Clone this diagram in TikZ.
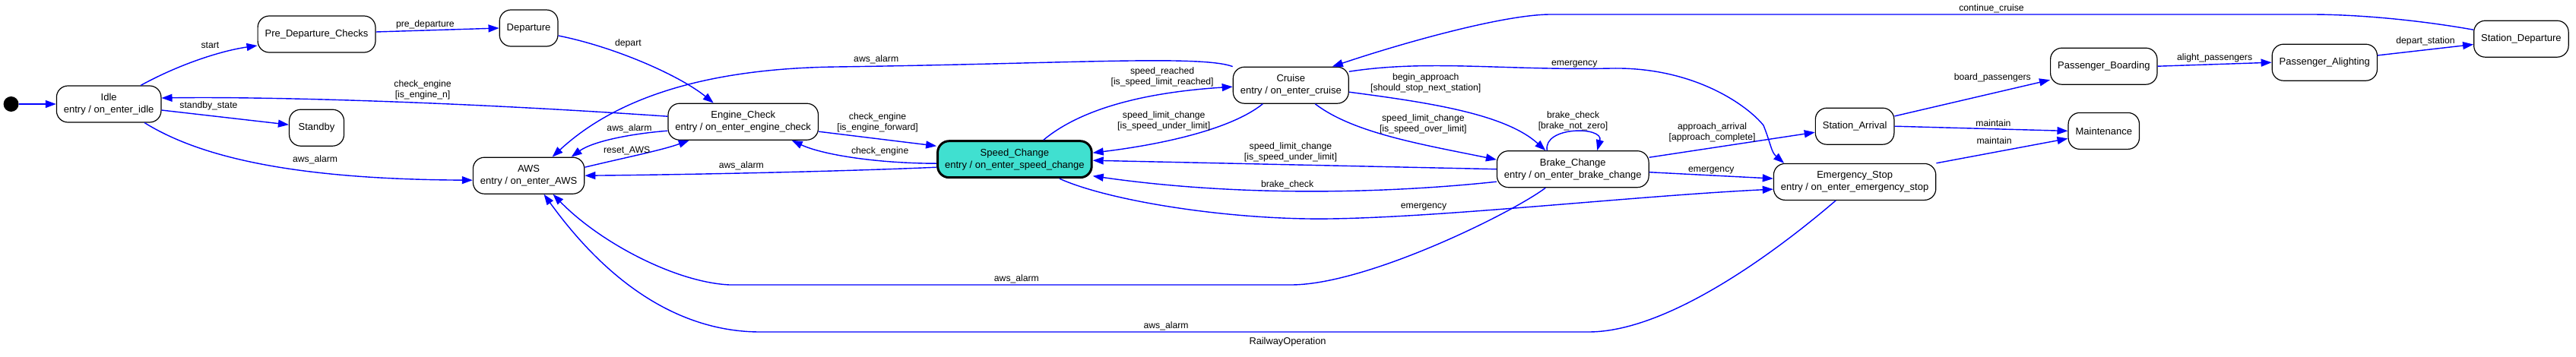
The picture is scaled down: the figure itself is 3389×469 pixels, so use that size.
\documentclass[tikz,border=0pt]{standalone}
\usepackage{fontspec}
\setmainfont{Liberation Sans}
\usetikzlibrary{positioning,arrows.meta}
\definecolor{turq}{HTML}{40E0D0}

\begin{document}
\begin{tikzpicture}[
  x=1pt, y=-1pt,
  stbox/.style={draw, line width=1.2pt, rounded corners=15pt, align=center,
                minimum width=72pt, minimum height=48pt, inner xsep=9.5pt,
                font=\fontsize{13}{16}\selectfont, fill=white},
  hilite/.style={fill=turq, line width=3pt},
  initdot/.style={circle, fill=black, minimum size=20pt, inner sep=0pt},
  trans/.style={draw=blue, line width=1.4pt, -{Triangle[length=14pt, width=10pt]}},
  lab/.style={font=\fontsize{12.2}{14}\selectfont, align=center, inner sep=1pt}
]
\useasboundingbox (0,0) rectangle (3389,469);
% States, left to right
\node[initdot] (init) at (14.6,137) {};
\node[stbox, right=49pt of init] (idle) {Idle\\ entry / on\_enter\_idle};
\node[stbox, right=126pt of idle, yshift=92pt] (pdc) {Pre\_Departure\_Checks};
\node[stbox, below=74pt of pdc] (standby) {Standby};
\node[stbox, right=162pt of pdc, yshift=8pt] (departure) {Departure};
\node[stbox, below=145pt of departure] (aws) {AWS\\ entry / on\_enter\_AWS};
\node[stbox, right=109pt of aws, yshift=71pt] (engine) {Engine\_Check\\ entry / on\_enter\_engine\_check};
\node[stbox, hilite, right=155pt of engine, yshift=-49.5pt] (speed) {Speed\_Change\\ entry / on\_enter\_speed\_change};
\node[stbox, right=184pt of speed, yshift=97.5pt] (cruise) {Cruise\\ entry / on\_enter\_cruise};
\node[stbox, right=194pt of cruise, yshift=-110.5pt] (brake) {Brake\_Change\\ entry / on\_enter\_brake\_change};
\node[stbox, right=218pt of brake, yshift=56.5pt] (arrival) {Station\_Arrival};
\node[stbox, below=24pt of arrival] (estop) {Emergency\_Stop\\ entry / on\_enter\_emergency\_stop};
\node[stbox, right=204.5pt of arrival, yshift=79pt] (boarding) {Passenger\_Boarding};
\node[stbox, below=36pt of boarding] (maint) {Maintenance};
\node[stbox, right=150pt of boarding, yshift=5pt] (alight) {Passenger\_Alighting};
\node[stbox, right=126pt of alight, yshift=31pt] (sdepart) {Station\_Departure};
\node[font=\fontsize{12.8}{15}\selectfont] (title) at (1694,450) {RailwayOperation};

% Start-up side
\draw[trans] (init) -- (idle);
\draw[trans] ([xshift=42pt]idle.north) .. controls (235,85) and (290,67) .. ([yshift=-15pt]pdc.west)
  node[lab, pos=0.59, above=9pt] {start};
\draw[trans] ([yshift=-8pt]idle.east) -- ([yshift=4pt]standby.west)
  node[lab, pos=0.37, above=5pt] {standby\_state};
\draw[trans] ([xshift=47pt]idle.south) .. controls (260,205) and (380,236) .. ([yshift=-6pt]aws.west)
  node[lab, pos=0.66, above=9pt] {aws\_alarm};
\draw[trans] ([yshift=3pt]pdc.east) -- (departure.west)
  node[lab, pos=0.4, above=0pt] {pre\_departure};
\draw[trans] ([yshift=-10pt]departure.east) .. controls (810,62) and (895,100) .. ([xshift=-39pt]engine.north)
  node[lab, pos=0.4, above=10pt] {depart};

% Engine check and AWS
\draw[trans] ([yshift=7pt]engine.west) .. controls (600,134) and (350,127) .. ([yshift=8pt]idle.east)
  node[lab, pos=0.41, above=3pt] {check\_engine\\ {[}is\_engine\_n{]}};
\draw[trans] ([yshift=-12pt]engine.west) .. controls (830,176) and (780,186) .. ([xshift=56pt]aws.north)
  node[lab, pos=0.35, above=2pt] {aws\_alarm};
\draw[trans] ([yshift=11pt]aws.east) .. controls (820,208) and (870,198) .. ([xshift=-71pt]engine.south)
  node[lab, pos=0.37, above=2pt] {reset\_AWS};
\draw[trans] ([yshift=-13pt]engine.east) -- ([yshift=17.5pt]speed.west)
  node[lab, pos=0.5, above=7pt] {check\_engine\\ {[}is\_engine\_forward{]}};
\draw[trans] ([yshift=-5.5pt]speed.west) .. controls (1150,215) and (1080,203) .. ([xshift=64pt]engine.south)
  node[lab, pos=0.32, above=5pt] {check\_engine};
\draw[trans] ([yshift=-10.5pt]speed.west) .. controls (1100,226) and (900,230) .. (aws.east)
  node[lab, pos=0.55, above=2pt] {aws\_alarm};
\draw[trans] (cruise.north west) .. controls (1580,72) and (1400,84) .. (1100,88)
  node[lab, pos=0.94, above=2pt] {aws\_alarm}
  .. controls (950,90) and (820,120) .. ([xshift=31pt]aws.north);

% Speed change and cruise
\draw[trans] ([xshift=38pt]speed.north) .. controls (1420,145) and (1500,122) .. ([yshift=-2pt]cruise.west)
  node[lab, pos=0.72, above=9pt] {speed\_reached\\ {[}is\_speed\_limit\_reached{]}};
\draw[trans] ([xshift=-37pt]cruise.south) .. controls (1620,170) and (1530,190) .. ([yshift=8.5pt]speed.east)
  node[lab, pos=0.25, left=28pt] {speed\_limit\_change\\ {[}is\_speed\_under\_limit{]}};
\draw[trans] ([yshift=-9pt]cruise.east) .. controls (1880,135) and (1980,150) .. ([xshift=-36pt]brake.north)
  node[lab, pos=0.33, above=13pt] {begin\_approach\\ {[}should\_stop\_next\_station{]}};
\draw[trans] ([xshift=32pt]cruise.south) .. controls (1780,175) and (1870,190) .. ([yshift=12.5pt]brake.west)
  node[lab, pos=0.66, above=13pt] {speed\_limit\_change\\ {[}is\_speed\_over\_limit{]}};
\draw[trans] (brake.west) -- ([yshift=-1.5pt]speed.east)
  node[lab, pos=0.51, above=2pt] {speed\_limit\_change\\ {[}is\_speed\_under\_limit{]}};
\draw[trans] ([yshift=-16.5pt]brake.west) .. controls (1850,252) and (1650,262) .. ([yshift=-22pt]speed.east)
  node[lab, pos=0.58, above=1pt] {brake\_check};
\draw[trans] ([xshift=59pt]speed.south) .. controls (1460,265) and (1620,290) .. (1750,288)
  .. controls (1900,286) and (2150,258) .. ([yshift=-9.7pt]estop.west)
  node[lab, pos=0.24, above=4pt] {emergency};

% Braking
\draw[trans] ([xshift=-34pt]brake.north) .. controls (2030,166) and (2110,166) .. ([xshift=32pt]brake.north)
  node[lab, pos=0.5, above=0pt] {brake\_check\\ {[}brake\_not\_zero{]}};
\draw[trans] ([yshift=15.5pt]brake.east) -- ([yshift=-8pt]arrival.west)
  node[lab, pos=0.38, above=6pt] {approach\_arrival\\ {[}approach\_complete{]}};
\draw[trans] ([yshift=-4pt]brake.east) -- ([yshift=4.3pt]estop.west)
  node[lab, pos=0.5, above=0pt] {emergency};
\draw[trans] ([yshift=18pt]cruise.east) .. controls (1880,78) and (1980,93) .. (2120,90)
  node[lab, pos=0.88, above=0pt] {emergency}
  .. controls (2230,88) and (2300,140) .. (2320,165)
  .. controls (2330,190) and (2330,200) .. ([xshift=-93pt]estop.north);

% Alarm returns along the bottom
\draw[trans] ([xshift=-36pt]brake.south) .. controls (1990,280) and (1800,374) .. (1700,375)
  -- (960,375) node[lab, pos=0.49, above=0pt] {aws\_alarm}
  .. controls (890,372) and (790,320) .. ([xshift=32pt]aws.south);
\draw[trans] ([xshift=-25pt]estop.south) .. controls (2350,320) and (2200,437) .. (2090,437)
  -- (1000,437) node[lab, pos=0.51, above=0pt] {aws\_alarm}
  .. controls (920,437) and (820,400) .. ([xshift=20pt]aws.south);

% Station side
\draw[trans] ([yshift=13.3pt]arrival.east) -- ([yshift=-18pt]boarding.west)
  node[lab, pos=0.63, above=13pt] {board\_passengers};
\draw[trans] (arrival.east) -- (maint.west)
  node[lab, pos=0.57, above=1pt] {maintain};
\draw[trans] (estop.north east) -- ([yshift=-10pt]maint.west)
  node[lab, pos=0.44, above=9pt] {maintain};
\draw[trans] (boarding.east) -- (alight.west)
  node[lab, pos=0.5, above=1pt] {alight\_passengers};
\draw[trans] ([yshift=9.3pt]alight.east) -- ([yshift=-7.3pt]sdepart.west)
  node[lab, pos=0.5, above=4pt] {depart\_station};
\draw[trans] ([yshift=12pt]sdepart.west) .. controls (3180,26) and (3100,19) .. (3040,19)
  -- (2040,19) node[lab, pos=0.42, above=0pt] {continue\_cruise}
  .. controls (1980,19) and (1850,55) .. ([xshift=54.5pt]cruise.north);
\end{tikzpicture}
\end{document}
